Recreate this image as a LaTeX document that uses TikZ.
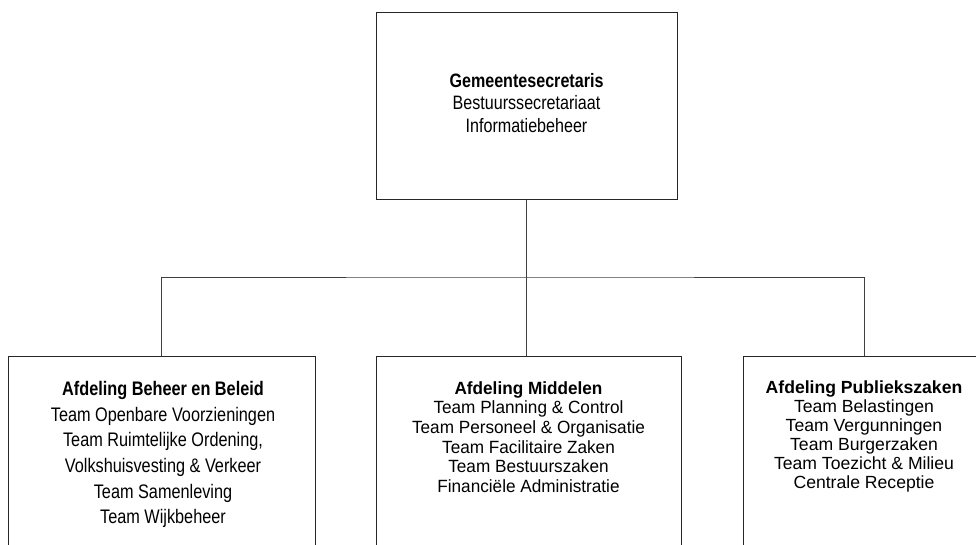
\documentclass[tikz,border=0pt]{standalone}
\usepackage{fontspec}
\setmainfont{Liberation Sans}
\newfontfamily\condfont{Liberation Sans}[FakeStretch=0.83]
\newfontfamily\slightfont{Liberation Sans}[FakeStretch=0.97]
\begin{document}
\begin{tikzpicture}[x=1pt,y=-1pt,
  box/.style={draw=black!85,line width=1pt,inner sep=0pt},
  lbl/.style={align=center,inner sep=0pt,text=black},
  conn/.style={draw=black!75,line width=1pt}]
\useasboundingbox (0,0) rectangle (976,544);
\clip (0,0) rectangle (976,544);
% boxes
\node[box,minimum width=301pt,minimum height=187pt] (top) at (526.5,105.5) {};
\node[box,minimum width=306.5pt,minimum height=244pt] (left) at (161.75,478) {};
\node[box,minimum width=305pt,minimum height=244pt] (mid) at (528.5,478) {};
\node[box,minimum width=242pt,minimum height=244pt] (right) at (864,478) {};
% connectors
\coordinate (bus) at (527,277);
\draw[conn] (top.south) -- (top.south |- mid.north);
\draw[conn] (left.north) |- (bus) -| (right.north);
% texts
\node[lbl,font=\condfont\fontsize{19.4}{22.2}\selectfont] (ttop) at (526.5,103)
  {\textbf{Gemeentesecretaris}\\Bestuurssecretariaat\\Informatiebeheer};
\node[lbl,font=\condfont\fontsize{19.6}{25.7}\selectfont] (tleft) at (163,454.5)
  {\textbf{Afdeling Beheer en Beleid}\\Team Openbare Voorzieningen\\Team Ruimtelijke Ordening,\\Volkshuisvesting \& Verkeer\\Team Samenleving\\Team Wijkbeheer};
\node[lbl,font=\slightfont\fontsize{17.7}{19.6}\selectfont] (tmid) at (528.5,437)
  {\textbf{Afdeling Middelen}\\Team Planning \& Control\\Team Personeel \& Organisatie\\Team Facilitaire Zaken\\Team Bestuurszaken\\Financiële Administratie};
\node[lbl,font=\fontsize{17.6}{19.1}\selectfont] (tright) at (864,436.5)
  {\textbf{Afdeling Publiekszaken}\\Team Belastingen\\Team Vergunningen\\Team Burgerzaken\\Team Toezicht \& Milieu\\Centrale Receptie};
\end{tikzpicture}
\end{document}
